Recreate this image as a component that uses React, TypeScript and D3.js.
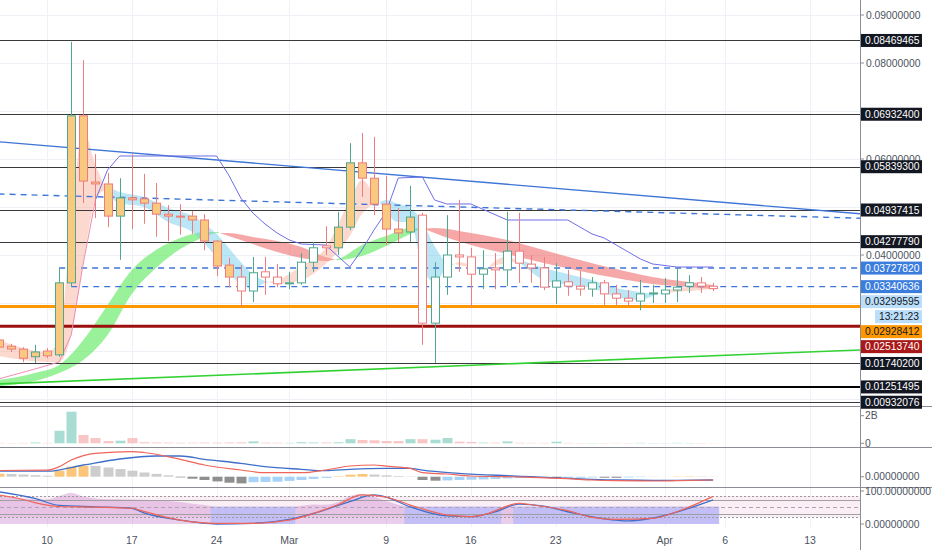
import * as d3 from "d3";

const dayOf = (s: string) => new Date(`2020-${s}T00:00:00Z`);

// daily candles, Feb 6 - Apr 5
const days = d3.utcDay.range(dayOf("02-06"), dayOf("04-06"));

const opens = [0.0223, 0.021, 0.0204, 0.0188, 0.02, 0.0192, 0.0342, 0.069, 0.0552, 0.0548, 0.0481, 0.0519, 0.0517, 0.0508, 0.0485, 0.0481, 0.0481, 0.0473, 0.0429, 0.0379, 0.0354, 0.0325, 0.0365, 0.0354, 0.034, 0.0342, 0.0385, 0.0419, 0.0415, 0.0458, 0.0592, 0.056, 0.0506, 0.0454, 0.0448, 0.0483, 0.0258, 0.0354, 0.04, 0.0396, 0.036, 0.0373, 0.0369, 0.0408, 0.0381, 0.0373, 0.0333, 0.0344, 0.0335, 0.0329, 0.0342, 0.0319, 0.031, 0.0304, 0.032, 0.0319, 0.0327, 0.0335, 0.0342, 0.0335];
const highs = [0.0231, 0.0215, 0.0208, 0.0213, 0.0206, 0.0373, 0.0844, 0.0806, 0.061, 0.0571, 0.056, 0.061, 0.0569, 0.055, 0.0504, 0.0506, 0.0492, 0.0485, 0.0431, 0.0394, 0.0379, 0.0396, 0.0396, 0.0381, 0.0365, 0.0404, 0.0427, 0.046, 0.049, 0.0633, 0.0654, 0.0646, 0.0565, 0.0498, 0.0544, 0.0488, 0.0385, 0.0483, 0.0515, 0.0415, 0.041, 0.0404, 0.049, 0.0488, 0.04, 0.0396, 0.0383, 0.0369, 0.0367, 0.0354, 0.0348, 0.0338, 0.0327, 0.0348, 0.0338, 0.0352, 0.0375, 0.0358, 0.0354, 0.0342];
const lows = [0.0202, 0.0198, 0.0177, 0.0175, 0.0185, 0.0188, 0.0334, 0.0508, 0.0477, 0.0458, 0.039, 0.0454, 0.0465, 0.0438, 0.0429, 0.0442, 0.0444, 0.041, 0.0356, 0.0333, 0.0292, 0.0302, 0.0317, 0.0333, 0.0329, 0.0338, 0.0365, 0.04, 0.04, 0.0452, 0.0521, 0.0483, 0.0421, 0.0427, 0.0427, 0.0213, 0.0175, 0.0317, 0.0365, 0.029, 0.0329, 0.0329, 0.0335, 0.0342, 0.0342, 0.0327, 0.0298, 0.0315, 0.0315, 0.0313, 0.0296, 0.0296, 0.0292, 0.0285, 0.03, 0.03, 0.0302, 0.0321, 0.0321, 0.0325];
const closes = [0.0208, 0.0204, 0.0185, 0.0198, 0.019, 0.0342, 0.069, 0.0554, 0.0548, 0.0481, 0.0519, 0.0515, 0.0508, 0.0485, 0.0481, 0.0479, 0.0473, 0.0429, 0.0377, 0.0354, 0.0325, 0.0363, 0.0354, 0.034, 0.0342, 0.0385, 0.0415, 0.0415, 0.0458, 0.0592, 0.056, 0.0506, 0.0454, 0.0446, 0.0479, 0.0258, 0.0354, 0.04, 0.0396, 0.036, 0.0371, 0.0369, 0.0408, 0.0383, 0.0373, 0.0333, 0.0346, 0.0335, 0.0329, 0.0342, 0.0319, 0.031, 0.0304, 0.0319, 0.0321, 0.0327, 0.0333, 0.0342, 0.0335, 0.033];
// bar-colour state of each candle (1 = painted)
const painted = [1, 1, 1, 1, 1, 1, 1, 1, 1, 1, 1, 1, 1, 1, 1, 1, 1, 1, 1, 1, 0, 0, 0, 0, 0, 0, 0, 0, 1, 1, 1, 1, 1, 1, 1, 0, 0, 0, 0, 0, 0, 0, 0, 0, 0, 0, 0, 0, 0, 0, 0, 0, 0, 0, 0, 0, 0, 0, 0, 0];
// volume, billions
const volumes = [0.03, 0.02, 0.03, 0.06, 0.03, 0.91, 2.29, 0.6, 0.38, 0.17, 0.19, 0.38, 0.08, 0.06, 0.05, 0.04, 0.04, 0.05, 0.05, 0.06, 0.07, 0.14, 0.05, 0.04, 0.03, 0.08, 0.06, 0.06, 0.07, 0.3, 0.24, 0.22, 0.17, 0.16, 0.3, 0.3, 0.26, 0.38, 0.12, 0.1, 0.05, 0.05, 0.14, 0.04, 0.03, 0.03, 0.12, 0.03, 0.02, 0.02, 0.02, 0.02, 0.02, 0.03, 0.02, 0.02, 0.03, 0.02, 0.02, 0.01];
// MACD histogram, x1e-3
const macdHist = [0.3, 0.27, 0.22, 0.15, 0.1, 0.6, 1.0, 1.1, 1.08, 0.92, 0.76, 0.6, 0.42, 0.28, 0.14, -0.07, -0.2, -0.33, -0.47, -0.6, -0.67, -0.55, -0.53, -0.5, -0.42, -0.33, -0.22, -0.12, 0.05, 0.2, 0.27, 0.22, 0.14, 0.07, 0.03, -0.33, -0.4, -0.37, -0.33, -0.3, -0.27, -0.22, -0.17, -0.14, -0.1, -0.08, -0.13, -0.12, -0.1, -0.07, -0.1, -0.11, -0.07, -0.04, -0.02, 0.01, 0.03, 0.04, 0.03, 0.02];
const rsiVals = [78, 76, 73, 71, 70, 80, 89, 78, 73, 71, 71, 70, 69, 67, 66, 63, 58, 54, 48, 44, 40, 45, 44, 42, 47, 52, 56, 55, 62, 80, 86, 78, 66, 55, 48, 35, 45, 48, 47, 42, 44, 44, 52, 46, 45, 40, 43, 42, 41, 43, 40, 39, 38, 42, 42, 44, 46, 48, 46, 45];

// fast ribbon (two averages)
const fastDays = ["02-06", "02-08", "02-10", "02-11", "02-12", "02-13", "02-14", "02-15", "02-16", "02-18", "02-20", "02-22", "02-24", "02-26", "02-27", "02-28", "02-29", "03-02", "03-04", "03-06", "03-07", "03-08", "03-09", "03-10", "03-11", "03-12", "03-13", "03-14", "03-15", "03-17", "03-19", "03-20", "03-22", "03-24", "03-26", "03-28", "03-30", "03-31", "04-02", "04-05"];
const fastA = [0.02229, 0.02063, 0.01979, 0.02229, 0.04729, 0.06604, 0.05875, 0.05313, 0.05083, 0.05, 0.04688, 0.04479, 0.03958, 0.03396, 0.03313, 0.03417, 0.03479, 0.03771, 0.04146, 0.05146, 0.05563, 0.05271, 0.04896, 0.04688, 0.04688, 0.03729, 0.03438, 0.03729, 0.03854, 0.03688, 0.03979, 0.03833, 0.03479, 0.03375, 0.03313, 0.03125, 0.03063, 0.03146, 0.03313, 0.03354];
const fastB = [0.01896, 0.01813, 0.01771, 0.01771, 0.02333, 0.03833, 0.05146, 0.05396, 0.05313, 0.05208, 0.04979, 0.04813, 0.04438, 0.03854, 0.03604, 0.03458, 0.03396, 0.03479, 0.03813, 0.04396, 0.04854, 0.05063, 0.05146, 0.05063, 0.04979, 0.04688, 0.04188, 0.03854, 0.03792, 0.03729, 0.03833, 0.03875, 0.03729, 0.03604, 0.03479, 0.03313, 0.03229, 0.03188, 0.03229, 0.03292];

// slow ribbon
const slowDays = ["02-06", "02-09", "02-11", "02-13", "02-15", "02-17", "02-19", "02-21", "02-23", "02-24", "02-25", "02-27", "02-29", "03-02", "03-04", "03-05", "03-07", "03-09", "03-11", "03-12", "03-13", "03-16", "03-19", "03-22", "03-25", "03-28", "03-31", "04-03", "04-05"];
const slowC = [0.01396, 0.01542, 0.01708, 0.02229, 0.02958, 0.03688, 0.04104, 0.04354, 0.04479, 0.04479, 0.04396, 0.04229, 0.04063, 0.03938, 0.03875, 0.03917, 0.04208, 0.04396, 0.04563, 0.04563, 0.04458, 0.04208, 0.04021, 0.03833, 0.03667, 0.03521, 0.03396, 0.03333, 0.03292];
const slowD = [0.01271, 0.01375, 0.01542, 0.01813, 0.02333, 0.03188, 0.03729, 0.04125, 0.04375, 0.04458, 0.04458, 0.04375, 0.04292, 0.04167, 0.03958, 0.03896, 0.03979, 0.04188, 0.04438, 0.04542, 0.04563, 0.04458, 0.04313, 0.04104, 0.03896, 0.03708, 0.03542, 0.03438, 0.03375];

// trailing line
const trailDays = ["02-06", "02-09", "02-11", "02-12", "02-13", "02-14", "02-15", "02-16", "02-24", "02-25", "02-26", "02-27", "02-28", "02-29", "03-01", "03-02", "03-04", "03-06", "03-07", "03-08", "03-09", "03-10", "03-12", "03-13", "03-14", "03-16", "03-19", "03-24", "03-26", "03-27", "03-29", "03-30", "03-31", "04-02", "04-05"];
const trailVals = [0.01417, 0.01625, 0.01771, 0.02333, 0.03833, 0.05146, 0.05771, 0.06063, 0.06063, 0.05667, 0.05188, 0.04875, 0.04646, 0.04458, 0.04313, 0.04229, 0.04208, 0.0375, 0.04104, 0.04521, 0.04896, 0.05604, 0.05625, 0.05146, 0.05063, 0.05063, 0.04729, 0.04729, 0.04438, 0.04354, 0.04063, 0.03917, 0.03813, 0.0375, 0.0375];

// MACD lines, x1e-3
const macdDays = ["02-06", "02-10", "02-11", "02-12", "02-14", "02-17", "02-18", "02-21", "02-23", "02-26", "02-28", "03-02", "03-04", "03-06", "03-08", "03-09", "03-11", "03-12", "03-14", "03-16", "03-19", "03-21", "03-24", "03-26", "03-28", "03-31", "04-02", "04-05"];
const macdVals = [0.62, 0.65, 1.0, 1.67, 2.34, 2.5, 2.42, 1.74, 1.17, 0.67, 0.4, 0.4, 0.67, 1.07, 1.17, 1.05, 0.84, 0.4, 0.27, 0.07, 0.0, -0.06, -0.2, -0.33, -0.4, -0.43, -0.4, -0.33];
const signalDays = ["02-06", "02-10", "02-13", "02-16", "02-19", "02-21", "02-23", "02-26", "02-28", "03-02", "03-04", "03-06", "03-09", "03-11", "03-12", "03-15", "03-19", "03-21", "03-24", "03-26", "03-28", "03-31", "04-02", "04-05"];
const signalVals = [0.55, 0.55, 1.17, 1.77, 2.07, 2.07, 1.74, 1.34, 1.0, 0.74, 0.6, 0.74, 0.84, 0.84, 0.65, 0.34, 0.1, 0.0, -0.16, -0.26, -0.33, -0.36, -0.36, -0.33];

// stochastic RSI
const kDays = ["02-06", "02-08", "02-09", "02-10", "02-11", "02-14", "02-17", "02-18", "02-21", "02-24", "02-27", "03-01", "03-03", "03-05", "03-07", "03-09", "03-11", "03-14", "03-16", "03-17", "03-20", "03-21", "03-24", "03-26", "03-28", "03-31", "04-02", "04-05"];
const kVals = [83, 70, 61, 54, 50, 48, 45, 36, 11, 2, 2, 11, 30, 55, 83, 77, 54, 26, 21, 26, 59, 55, 38, 19, 13, 16, 35, 79];
const dDays = ["02-06", "02-09", "02-11", "02-14", "02-17", "02-18", "02-21", "02-24", "02-27", "03-01", "03-03", "03-06", "03-08", "03-09", "03-11", "03-14", "03-16", "03-18", "03-20", "03-22", "03-24", "03-27", "03-29", "03-31", "04-05"];
const dVals = [92, 73, 53, 49, 45, 32, 11, 0, 2, 13, 30, 64, 83, 77, 49, 23, 21, 35, 57, 51, 35, 15, 9, 17, 69];

// drawn levels
const blackLevels = [0.08469465, 0.069324, 0.058393, 0.04937415, 0.0427779, 0.017402, 0.00932076];
const heavyLevel = 0.01251495;
const orangeLevel = 0.02928412;
const redLevel = 0.0251374;
const dashedLevels = [
  { start: "02-11", v: 0.0372782 },
  { start: "02-12", v: 0.03340636 },
];
const trendSolid = [{ d: "02-06", v: 0.0636 }, { d: "04-18", v: 0.0484 }];
const trendDashed = [{ d: "02-06", v: 0.05271 }, { d: "04-18", v: 0.0476 }];
const supportLine = [{ d: "02-06", v: 0.01313 }, { d: "04-18", v: 0.02031 }];

const priceTicks = [0.01, 0.02, 0.03, 0.04, 0.05, 0.06, 0.07, 0.08, 0.09];
const dateTicks = ["02-10", "02-17", "02-24", "03-01", "03-09", "03-16", "03-23", "04-01", "04-06", "04-13"];

const lastPrice = 0.03299595;
const countdown = "13:21:23";

const FONT = "'Liberation Sans', Arial, sans-serif";
const UP = "#4fa78f";
const DOWN = "#ee7d7d";
const PAINT = "#f8c97e";
const GRID = "#eef1f6";
const AXIS_X = 860;

type RPt = { px: number; a: number; b: number };

function ribbonRuns(pts: RPt[]) {
  const runs: { up: boolean; pts: RPt[] }[] = [];
  let cur = { up: pts[0].a >= pts[0].b, pts: [pts[0]] };
  for (let i = 1; i < pts.length; i++) {
    const p0 = pts[i - 1];
    const p1 = pts[i];
    const up = p1.a >= p1.b;
    if (up !== cur.up) {
      const d0 = p0.a - p0.b;
      const d1 = p1.a - p1.b;
      const t = d0 / (d0 - d1);
      const v = p0.a + t * (p1.a - p0.a);
      const c = { px: p0.px + t * (p1.px - p0.px), a: v, b: v };
      cur.pts.push(c);
      runs.push(cur);
      cur = { up, pts: [c, p1] };
    } else {
      cur.pts.push(p1);
    }
  }
  runs.push(cur);
  return runs;
}

export default function App() {
  const x = d3.scaleUtc().domain([dayOf("02-10"), dayOf("04-13")]).range([47, 810]);
  const step = x(dayOf("02-11")) - x(dayOf("02-10"));
  const y = d3.scaleLinear().domain([0.04, 0.09]).range([255, 15]);
  const yVol = d3.scaleLinear().domain([0, 2]).range([443.3, 415.7]);
  const yMacd = d3.scaleLinear().domain([0, 2.5]).range([476.7, 451.7]);
  const yStoch = d3.scaleLinear().domain([0, 100]).range([524, 489]);
  const fmt = d3.format(".8f");
  const cx = (d: Date) => Math.round(x(d)) + 0.5;

  const ribbonArea = d3
    .area<RPt>()
    .x((p) => p.px)
    .y0((p) => y(p.a))
    .y1((p) => y(p.b))
    .curve(d3.curveMonotoneX);

  const slowRuns = ribbonRuns(slowDays.map((s, i) => ({ px: x(dayOf(s)), a: slowC[i], b: slowD[i] })));
  const fastRuns = ribbonRuns(fastDays.map((s, i) => ({ px: x(dayOf(s)), a: fastA[i], b: fastB[i] })));

  const trailPts: [number, number][] = trailDays.map((s, i) => [x(dayOf(s)), y(trailVals[i])]);
  const trailLine = d3.line();

  const seriesPath = (ds: string[], vs: number[], sy: d3.ScaleLinear<number, number>) =>
    d3
      .line<number>()
      .x((_, i) => x(dayOf(ds[i])))
      .y((v) => sy(v))
      .curve(d3.curveMonotoneX)(vs) ?? "";

  const macdPath = seriesPath(macdDays, macdVals, yMacd);
  const signalPath = seriesPath(signalDays, signalVals, yMacd);
  const kPath = seriesPath(kDays, kVals, yStoch);
  const dPath = seriesPath(dDays, dVals, yStoch);

  const rsiArea = d3
    .area<number>()
    .x((_, i) => x(days[i]))
    .y0(yStoch(0))
    .y1((v) => yStoch(v))
    .curve(d3.curveMonotoneX)(rsiVals);

  // runs of days under 50
  const lowRuns: [number, number][] = [];
  rsiVals.forEach((v, i) => {
    if (v < 50) {
      const last = lowRuns[lowRuns.length - 1];
      if (last && last[1] === i - 1) last[1] = i;
      else lowRuns.push([i, i]);
    }
  });

  const histColour = (i: number) => {
    const v = macdHist[i];
    const prev = i > 0 ? macdHist[i - 1] : v;
    if (v >= 0) return v >= prev ? "#fbc57a" : "#cdcdcd";
    return v < prev ? "#8f8f8f" : "#a6d3f7";
  };

  // right-axis labels with simple downward collision handling
  const labels = [
    ...blackLevels.slice(0, 5).map((v) => ({ v, bg: "#131722", fg: "#fff", extra: "" })),
    ...dashedLevels.map((l) => ({ v: l.v, bg: "#3b7ddd", fg: "#fff", extra: "" })),
    { v: lastPrice, bg: "#bbdefb", fg: "#131722", extra: countdown },
    { v: orangeLevel, bg: "#ff9800", fg: "#131722", extra: "" },
    { v: redLevel, bg: "#a81818", fg: "#fff", extra: "" },
    ...[blackLevels[5], heavyLevel, blackLevels[6]].map((v) => ({ v, bg: "#131722", fg: "#fff", extra: "" })),
  ].sort((a, b) => b.v - a.v);
  let prevBottom = -Infinity;
  const placed = labels.map((l) => {
    const slot = l.extra ? 30 : 15;
    const top = Math.max(y(l.v) - 7.5, prevBottom);
    prevBottom = top + slot;
    return { ...l, top };
  });
  // plain tick labels hidden where a label box sits on them
  const visibleTicks = priceTicks.filter(
    (t) => !placed.some((l) => Math.abs(l.top + 7.5 - y(t)) < 6)
  );

  const seg = (pts: { d: string; v: number }[]) => ({
    x1: x(dayOf(pts[0].d)),
    y1: y(pts[0].v),
    x2: x(dayOf(pts[1].d)),
    y2: y(pts[1].v),
  });

  return (
    <svg
      width={932}
      height={550}
      style={{ position: "fixed", left: 0, top: 0, background: "#fff" }}
      fontFamily={FONT}
      fontSize={10.3}
    >
      <defs>
        <clipPath id="pricePane">
          <rect x={0} y={0} width={AXIS_X} height={405} />
        </clipPath>
        <clipPath id="chartArea">
          <rect x={0} y={0} width={AXIS_X} height={550} />
        </clipPath>
      </defs>
      <rect x={0} y={0} width={932} height={550} fill="#fff" />

      {/* grid */}
      <g shapeRendering="crispEdges">
        {dateTicks.map((s) => (
          <line key={s} x1={cx(dayOf(s))} x2={cx(dayOf(s))} y1={0} y2={527} stroke={GRID} />
        ))}
        {priceTicks.map((t) => (
          <line key={t} x1={0} x2={AXIS_X} y1={Math.round(y(t)) + 0.5} y2={Math.round(y(t)) + 0.5} stroke={GRID} />
        ))}
      </g>

      <g clipPath="url(#pricePane)">
        {slowRuns.map((r, i) => (
          <path key={`s${i}`} d={ribbonArea(r.pts) ?? ""} fill={r.up ? "rgba(110,235,110,0.7)" : "rgba(240,110,110,0.6)"} />
        ))}
        {fastRuns.map((r, i) => (
          <path key={`f${i}`} d={ribbonArea(r.pts) ?? ""} fill={r.up ? "rgba(248,165,140,0.42)" : "rgba(120,205,235,0.5)"} />
        ))}

        <g shapeRendering="crispEdges">
          {blackLevels.map((v) => (
            <line key={v} x1={0} x2={AXIS_X} y1={Math.round(y(v)) + 0.5} y2={Math.round(y(v)) + 0.5} stroke="#3a3a3a" strokeWidth={1} />
          ))}
          <line x1={0} x2={AXIS_X} y1={Math.round(y(heavyLevel))} y2={Math.round(y(heavyLevel))} stroke="#000" strokeWidth={2} />
        </g>

        <line {...seg(trendSolid)} stroke="#3f75d6" strokeWidth={1.4} />
        <line {...seg(trendDashed)} stroke="#3f75d6" strokeWidth={1.4} strokeDasharray="6 5" />
        <line {...seg(supportLine)} stroke="#33d233" strokeWidth={1.6} />
        {dashedLevels.map((l) => (
          <line
            key={l.v}
            x1={x(dayOf(l.start))}
            x2={AXIS_X}
            y1={y(l.v)}
            y2={y(l.v)}
            stroke="#3f75d6"
            strokeWidth={1.4}
            strokeDasharray="6 5"
          />
        ))}
        <line x1={0} x2={AXIS_X} y1={y(orangeLevel)} y2={y(orangeLevel)} stroke="#ff9800" strokeWidth={3} />
        <line x1={0} x2={AXIS_X} y1={y(redLevel)} y2={y(redLevel)} stroke="#9c0f0f" strokeWidth={3} />

        <path d={trailLine(trailPts.slice(0, 6)) ?? ""} fill="none" stroke="#ec8fb0" strokeWidth={1} />
        <path d={trailLine(trailPts.slice(5)) ?? ""} fill="none" stroke="#6e6ee6" strokeWidth={1} />

        {days.map((dt, i) => {
          const px = cx(dt);
          const up = closes[i] >= opens[i];
          const col = up ? UP : DOWN;
          const top = y(Math.max(opens[i], closes[i]));
          const bot = y(Math.min(opens[i], closes[i]));
          return (
            <g key={i}>
              <line x1={px} x2={px} y1={y(highs[i])} y2={top} stroke={col} />
              <line x1={px} x2={px} y1={bot} y2={y(lows[i])} stroke={col} />
              <rect x={px - 4} y={top} width={8} height={Math.max(1, bot - top)} fill={painted[i] ? PAINT : "#fff"} stroke={col} />
            </g>
          );
        })}
      </g>

      {/* volume */}
      <g clipPath="url(#chartArea)">
        {days.map((dt, i) => (
          <rect
            key={i}
            x={cx(dt) - 5}
            y={yVol(volumes[i])}
            width={10}
            height={yVol(0) - yVol(volumes[i])}
            fill={closes[i] >= opens[i] ? "#a9dcd3" : "#f8c6c5"}
          />
        ))}
      </g>

      {/* MACD */}
      <g clipPath="url(#chartArea)">
        {days.map((dt, i) => {
          const v = macdHist[i];
          const y0 = yMacd(0);
          const y1 = yMacd(v);
          return <rect key={i} x={cx(dt) - 5} y={Math.min(y0, y1)} width={10} height={Math.abs(y1 - y0)} fill={histColour(i)} />;
        })}
        <path d={signalPath} fill="none" stroke="#3f6fc9" strokeWidth={1.3} />
        <path d={macdPath} fill="none" stroke="#f0645a" strokeWidth={1.2} />
      </g>

      {/* stochastic RSI */}
      <g clipPath="url(#chartArea)">
        <rect x={0} y={yStoch(80)} width={AXIS_X} height={yStoch(20) - yStoch(80)} fill="#fbeef5" />
        <path d={rsiArea ?? ""} fill="rgba(200,130,205,0.38)" />
        {lowRuns.map(([a, b]) => (
          <rect
            key={a}
            x={x(days[a]) - step / 2}
            y={yStoch(50)}
            width={x(days[b]) - x(days[a]) + step}
            height={yStoch(0) - yStoch(50)}
            fill="#c3bff6"
          />
        ))}
        <g shapeRendering="crispEdges">
          {[80, 20].map((v) => (
            <line key={v} x1={0} x2={AXIS_X} y1={Math.round(yStoch(v)) + 0.5} y2={Math.round(yStoch(v)) + 0.5} stroke="#9a9a9a" strokeDasharray="2 2" />
          ))}
          {[70, 30].map((v) => (
            <line key={v} x1={0} x2={AXIS_X} y1={Math.round(yStoch(v)) + 0.5} y2={Math.round(yStoch(v)) + 0.5} stroke="#a0a0a0" />
          ))}
          <line x1={0} x2={AXIS_X} y1={Math.round(yStoch(50)) + 0.5} y2={Math.round(yStoch(50)) + 0.5} stroke="#b0a0b0" strokeDasharray="4 3" />
        </g>
        <path d={dPath} fill="none" stroke="#3f6fc9" strokeWidth={1.3} />
        <path d={kPath} fill="none" stroke="#f0645a" strokeWidth={1.2} />
      </g>

      {/* pane separators */}
      <g shapeRendering="crispEdges">
        {[406, 447, 487].map((v) => (
          <line key={v} x1={0} x2={932} y1={v + 0.5} y2={v + 0.5} stroke="#8a8d94" strokeWidth={1.5} />
        ))}
        <line x1={AXIS_X + 0.5} x2={AXIS_X + 0.5} y1={0} y2={550} stroke="#8a8d94" />
      </g>

      {/* price axis */}
      <g fill="#4c525e">
        {priceTicks.map((t) => (
          <line key={t} x1={AXIS_X} x2={AXIS_X + 4} y1={y(t)} y2={y(t)} stroke="#8a8d94" />
        ))}
        {visibleTicks.map((t) => (
          <text key={t} x={866} y={y(t)} dominantBaseline="central">
            {fmt(t)}
          </text>
        ))}
      </g>
      {placed.map((l) => (
        <g key={l.v}>
          <rect x={AXIS_X + 1} y={l.top + 1} width={61} height={13} fill={l.bg} />
          <text x={865} y={l.top + 7.5} dominantBaseline="central" fill={l.fg}>
            {fmt(l.v)}
          </text>
          {l.extra && (
            <>
              <rect x={875} y={l.top + 16} width={47} height={13} fill={l.bg} />
              <text x={919} y={l.top + 22.5} dominantBaseline="central" textAnchor="end" fill={l.fg}>
                {l.extra}
              </text>
            </>
          )}
        </g>
      ))}

      {/* lower pane scales */}
      <g fill="#4c525e">
        {[
          { yy: yVol(2), t: "2B" },
          { yy: yVol(0), t: "0" },
          { yy: yMacd(0), t: fmt(0) },
          { yy: yStoch(100) + 2, t: fmt(100) },
          { yy: yStoch(0), t: fmt(0) },
        ].map((l, i) => (
          <g key={i}>
            <line x1={AXIS_X} x2={AXIS_X + 4} y1={l.yy} y2={l.yy} stroke="#8a8d94" />
            <text x={865} y={l.yy} dominantBaseline="central">
              {l.t}
            </text>
          </g>
        ))}
      </g>

      {/* time axis */}
      <g fill="#4c525e" textAnchor="middle" fontSize={10.5}>
        {dateTicks.map((s) => {
          const d = dayOf(s);
          const label = d.getUTCDate() === 1 ? d3.utcFormat("%b")(d) : String(d.getUTCDate());
          return (
            <text key={s} x={x(d)} y={540} dominantBaseline="central">
              {label}
            </text>
          );
        })}
      </g>
    </svg>
  );
}
